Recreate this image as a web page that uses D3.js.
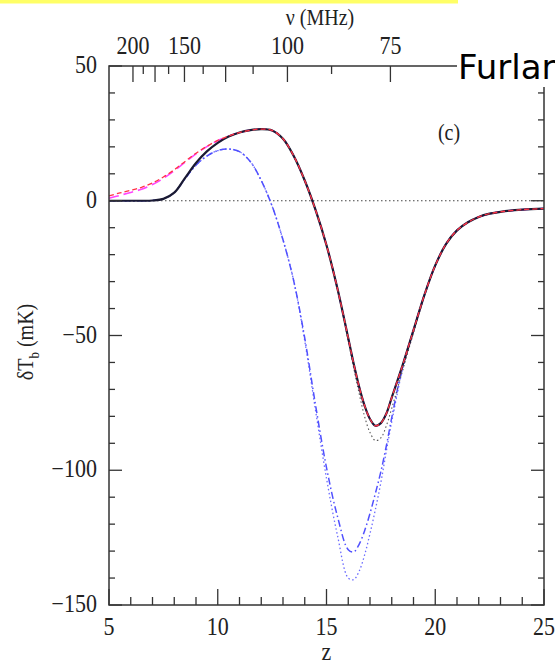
<!DOCTYPE html>
<html>
<head>
<meta charset="utf-8">
<script src="https://cdn.jsdelivr.net/npm/d3@7"></script>
<style>
  body { margin: 0; background: #fff; }
  svg { display: block; }
</style>
</head>
<body>
<svg id="chart" width="555" height="665"></svg>
<script>
// Redshift grid shared by every curve
const zGrid = [5, 5.5, 6, 6.5, 7, 7.5, 8, 8.5, 9, 9.5, 10, 10.5, 11, 11.5, 12, 12.5, 13, 13.5, 14, 14.5,
  15, 15.5, 16, 16.25, 16.5, 16.75, 17, 17.25, 17.5, 17.75, 18, 18.5, 19, 19.5, 20, 20.5, 21, 21.5, 22, 22.5, 23, 24, 25];

// Brightness temperature (mK) for each model
const tSolid = [0, 0, 0, 0, 0.1, 0.7, 3, 8.5, 14, 18.3, 21.5, 23.8, 25.3, 26.2, 26.6, 26.1, 23, 16.5, 7.5, -3.5,
  -16.5, -32.5, -51, -60.5, -69, -76, -81, -83.5, -82.5, -79, -73, -61, -48, -35, -24, -16, -11, -8, -6, -4.8, -4.1, -3.3, -2.9];
const tRedDash = [1.8, 2.9, 3.9, 5.0, 6.6, 8.8, 11.5, 14.6, 17.6, 20.2, 22.4, 24.0, 25.3, 26.2, 26.6, 26.1, 23, 16.5, 7.5, -3.5,
  -16.5, -32.5, -51, -60.5, -69, -76, -81, -83.5, -82.5, -79, -73, -61, -48, -35, -24, -16, -11, -8, -6, -4.8, -4.1, -3.3, -2.9];
const tMagentaDash = [0.9, 2.0, 3.1, 4.3, 6.0, 8.3, 11.1, 14.3, 17.4, 20.1, 22.3, 23.9, 25.3, 26.2, 26.6, 26.1, 23, 16.5, 7.5, -3.5,
  -16.5, -32.5, -51, -60.5, -69, -76, -81, -83.5, -82.5, -79, -73, -61, -48, -35, -24, -16, -11, -8, -6, -4.8, -4.1, -3.3, -2.9];
const tBlackDot = [0, 0, 0, 0, 0.1, 0.7, 3, 8.5, 14, 18.3, 21.5, 23.8, 25.3, 26.2, 26.6, 26.1, 23, 16.5, 7.5, -3.5,
  -16.5, -32.5, -52, -62, -71.5, -80, -86, -89, -88, -83.5, -77, -63, -49, -35.5, -24, -16, -11, -8, -6, -4.8, -4.1, -3.3, -2.9];
const tBlueDotDash = [0, 0, 0, 0, 0.1, 0.7, 3, 8.2, 13.2, 16.6, 18.6, 19.2, 18.2, 14.5, 7.5, -2, -14.5, -30, -51, -76,
  -99, -117, -129.5, -130.3, -127.5, -122.5, -116, -108.5, -100.5, -91, -80.5, -61.5, -48, -35, -24, -16, -11, -8, -6, -4.8, -4.1, -3.3, -2.9];
const tBlueDot = [0, 0, 0, 0, 0.1, 0.7, 3, 8.2, 13.2, 16.6, 18.6, 19.2, 18.2, 14.5, 7.5, -2, -14.5, -30, -52, -78,
  -103, -124, -140, -140.6, -137.5, -131.5, -123.5, -114.5, -104.5, -93, -82, -62.5, -48, -35, -24, -16, -11, -8, -6, -4.8, -4.1, -3.3, -2.9];

// Axis ticks
const zMajor = [5, 10, 15, 20, 25];
const zMinor = [6, 7, 8, 9, 11, 12, 13, 14, 16, 17, 18, 19, 21, 22, 23, 24];
const tMajor = [50, 0, -50, -100, -150];
const tMinor = [40, 30, 20, 10, -10, -20, -30, -40, -60, -70, -80, -90, -110, -120, -130, -140];
const nuMajor = [200, 175, 150, 125, 100, 75];
const nuMinor = [187.5, 162.5, 137.5, 112.5, 87.5, 62.5];
const nuLabels = [200, 150, 100, 75];
const NU21 = 1420.4; // rest frequency of the 21 cm line, MHz

const svg = d3.select("#chart");
const x = d3.scaleLinear().domain([5, 25]).range([109, 544]);
const y = d3.scaleLinear().domain([-150, 50]).range([605, 66]);
const zOfNu = nu => NU21 / nu - 1;

const serif = "'Liberation Serif', 'Times New Roman', serif";
const axisColor = "#333";

function label(txt, px, py, anchor, size, rotate) {
  const t = svg.append("text")
    .attr("transform", `translate(${px},${py})` + (rotate ? ` rotate(${rotate})` : "") + " scale(1,1.12)")
    .attr("text-anchor", anchor)
    .attr("font-family", serif)
    .attr("font-size", size)
    .attr("fill", "#222");
  if (typeof txt === "string") t.text(txt); else txt(t);
  return t;
}

// Zero reference line
svg.append("line")
  .attr("x1", x(5)).attr("x2", x(25)).attr("y1", y(0)).attr("y2", y(0))
  .attr("stroke", "#444").attr("stroke-width", 1).attr("stroke-dasharray", "1.5,2.5");

// Curves
const line = d3.line()
  .x((d, i) => x(zGrid[i]))
  .y(d => y(d))
  .curve(d3.curveCatmullRom.alpha(0.5));

const series = [
  { v: tBlueDot, color: "#6a6aff", width: 1.3, dash: "1.5,2.5" },
  { v: tBlueDotDash, color: "#5050ff", width: 1.5, dash: "7,3,1.5,3" },
  { v: tBlackDot, color: "#555", width: 1.1, dash: "1.5,2.5" },
  { v: tMagentaDash, color: "#ff44ff", width: 1.6, dash: "10,5" },
  { v: tSolid, color: "#1a1a33", width: 2.2, dash: null },
  { v: tRedDash, color: "#ff3344", width: 1.3, dash: "5,3" }
];
svg.append("g").selectAll("path").data(series).join("path")
  .attr("d", s => line(s.v))
  .attr("fill", "none")
  .attr("stroke", s => s.color)
  .attr("stroke-width", s => s.width)
  .attr("stroke-dasharray", s => s.dash)
  .attr("stroke-linejoin", "round");

// Frame
const frame = svg.append("g").attr("stroke", axisColor).attr("stroke-width", 1.5).attr("fill", "none");
frame.append("rect").attr("x", x(5)).attr("y", y(50)).attr("width", x(25) - x(5)).attr("height", y(-150) - y(50));

// Bottom ticks (pointing inward)
const ticks = svg.append("g").attr("stroke", axisColor).attr("stroke-width", 1.3);
ticks.selectAll(".bmaj").data(zMajor).join("line")
  .attr("x1", d => x(d)).attr("x2", d => x(d)).attr("y1", y(-150)).attr("y2", y(-150) - 16);
ticks.selectAll(".bmin").data(zMinor).join("line")
  .attr("x1", d => x(d)).attr("x2", d => x(d)).attr("y1", y(-150)).attr("y2", y(-150) - 8);

// Left and right ticks
[[x(5), 1], [x(25), -1]].forEach(([x0, dir]) => {
  ticks.append("g").selectAll("line").data(tMajor).join("line")
    .attr("x1", x0).attr("x2", x0 + dir * 13).attr("y1", d => y(d)).attr("y2", d => y(d));
  ticks.append("g").selectAll("line").data(tMinor).join("line")
    .attr("x1", x0).attr("x2", x0 + dir * 6).attr("y1", d => y(d)).attr("y2", d => y(d));
});

// Top frequency ticks
ticks.append("g").selectAll("line").data(nuMajor).join("line")
  .attr("x1", d => x(zOfNu(d))).attr("x2", d => x(zOfNu(d))).attr("y1", y(50)).attr("y2", y(50) + 16);
ticks.append("g").selectAll("line").data(nuMinor).join("line")
  .attr("x1", d => x(zOfNu(d))).attr("x2", d => x(zOfNu(d))).attr("y1", y(50)).attr("y2", y(50) + 8);

// Tick labels
zMajor.forEach(d => label(String(d), x(d), 635, "middle", 22));
tMajor.forEach(d => label(d < 0 ? "\u2212" + Math.abs(d) : String(d), 97, y(d) + 7, "end", 22));
nuLabels.forEach(d => label(String(d), x(zOfNu(d)), 54, "middle", 22));

// Axis titles
label("z", x(15), 660, "middle", 22);
label("\u03bd  (MHz)", 320, 25, "middle", 20);
label(t => {
  t.append("tspan").text("\u03b4T");
  t.append("tspan").attr("font-size", 13).attr("dy", 5).text("b");
  t.append("tspan").attr("dy", -5).text("  (mK)");
}, 33, 342, "middle", 20, -90);
label("(c)", 449, 140, "middle", 20);

// Heading strip and author overlay
svg.append("rect").attr("x", 0).attr("y", 0).attr("width", 458).attr("height", 3.5).attr("fill", "#ffff66");
svg.append("rect").attr("x", 457).attr("y", 40).attr("width", 98).attr("height", 47).attr("fill", "#fff");
svg.append("text")
  .attr("x", 458).attr("y", 79)
  .attr("font-family", "'DejaVu Sans', sans-serif")
  .attr("font-size", 34)
  .attr("fill", "#000")
  .text("Furlan");
</script>
</body>
</html>
